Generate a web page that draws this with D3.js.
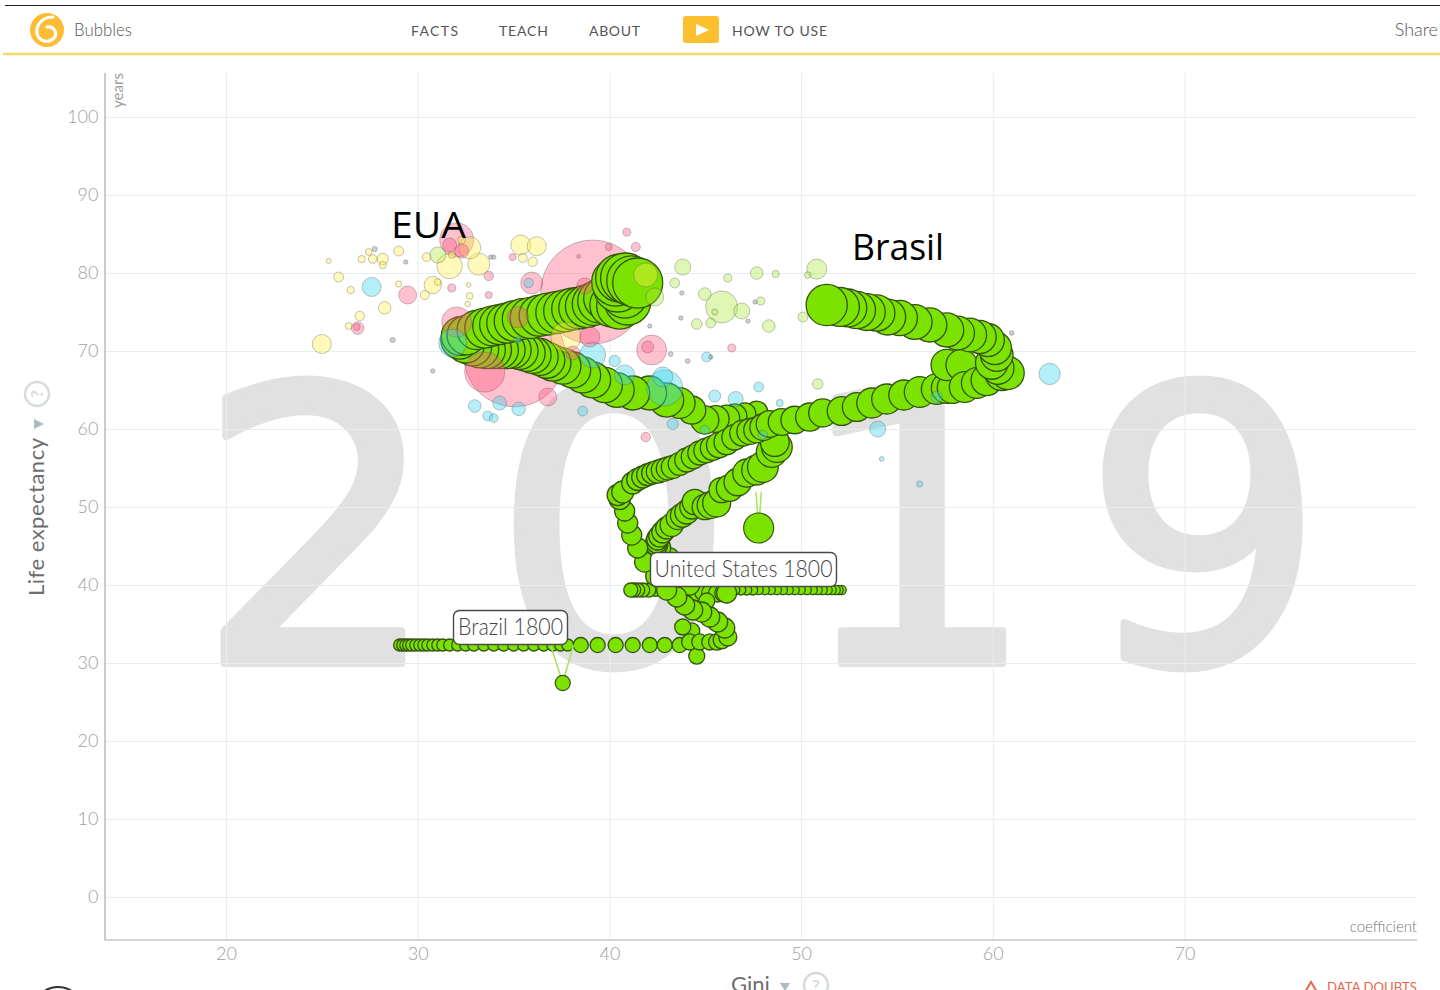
<!DOCTYPE html>
<html><head><meta charset="utf-8">
<script src="https://cdnjs.cloudflare.com/ajax/libs/d3/7.8.5/d3.min.js"></script>
<style>html,body{margin:0;padding:0;background:#fff;overflow:hidden}svg{display:block}text{font-family:Lato,sans-serif}</style>
</head><body><svg id="c" width="1440" height="990"></svg>
<script>
const yearDigits = ["2","0","1","9"];
const giniTicks = [20,30,40,50,60,70];
const lifeTicks = [0,10,20,30,40,50,60,70,80,90,100];
const navItems = ["FACTS","TEACH","ABOUT"];
// [gini, life expectancy, population in millions]
const brazilTrail = [[29.03,32.37,19],[29.19,32.37,19],[29.35,32.37,19],[29.5,32.37,19],[29.66,32.37,19],[29.87,32.37,19],[30.08,32.37,19],[30.29,32.37,19],[30.5,32.37,19],[30.76,32.37,19],[31.02,32.37,19],[31.28,32.37,19],[31.64,32.37,19],[32.06,32.37,19],[32.48,32.37,19],[32.9,32.37,19],[33.42,32.37,19],[33.94,32.37,19],[34.46,32.37,19],[34.98,32.37,19],[35.5,32.37,19],[36.03,32.37,19],[36.55,32.37,19],[37.02,32.37,19],[37.43,32.37,19],[37.8,32.37,19],[38.48,32.37,30],[39.36,32.37,30],[40.3,32.37,30],[41.19,32.37,30],[42.08,32.37,30],[42.86,32.37,30],[43.64,32.37,30],[44.53,30.96,34],[44.27,34.17,34],[43.8,34.68,34],[44.16,32.76,34],[44.69,32.76,34],[45.21,32.76,34],[45.58,32.76,36],[45.84,33.01,40],[46.15,33.4,43],[45.99,34.55,53],[45.62,35.32,53],[45.21,35.96,53],[44.79,36.6,53],[44.32,36.86,53],[43.9,37.5,53],[43.49,38.53,53],[42.96,39.42,53],[42.39,41.22,53],[41.81,43.01,53],[41.45,44.81,53],[41.14,46.47,53],[40.93,48.01,53],[40.77,49.55,53],[40.51,51.09,60],[40.41,51.6,60],[40.67,51.99,64],[41.19,53.14,64],[41.45,53.6,64],[41.71,53.91,64],[41.97,54.2,64],[42.23,54.42,64],[42.5,54.6,70],[42.76,54.81,70],[43.02,55,70],[43.28,55.19,70],[43.64,55.6,70],[44.01,56.09,76],[44.35,56.5,76],[44.69,56.99,76],[45.02,57.3,80],[45.36,57.63,80],[45.7,58,85],[46.09,58.4,85],[46.5,59,85],[46.93,59.55,89],[47.3,59.75,89],[47.66,59.94,89],[48.0,60.3,95],[48.33,60.71,95],[48.96,60.96,95],[49.64,61.22,100],[50.42,61.6,104],[51.1,62.12,104],[52.09,62.37,110],[52.88,62.88,110],[53.66,63.4,119],[54.44,63.91,119],[55.33,64.42,119],[56.16,64.81,125],[57.05,65.19,125],[57.57,65.32,125],[57.88,65.32,125],[57.57,68.27,130],[58.35,68.27,130],[58.51,65.45,125],[59.14,65.96,125],[59.66,66.35,130],[60.44,67.12,145],[60.75,67.24,145],[60.23,67.88,140],[59.92,68.53,140],[60.18,69.55,140],[60.08,70.45,145],[59.71,71.47,145],[59.29,71.86,145],[58.77,72.12,150],[58.14,72.37,150],[57.57,72.76,153],[56.69,73.4,153],[55.9,73.78,160],[55.12,74.29,165],[54.49,74.42,171],[53.92,74.94,175],[53.4,75.06,180],[52.88,75.32,185],[52.41,75.58,190],[52,75.71,200],[51.31,75.96,225]];
const usTrail = [[52.09,39.42,11],[51.93,39.42,11],[51.78,39.42,11],[51.57,39.42,11],[51.36,39.42,11],[51.1,39.42,11],[50.84,39.42,11],[50.58,39.42,11],[50.27,39.42,11],[49.95,39.42,11],[49.64,39.42,11],[49.33,39.42,11],[49.02,39.42,11],[48.71,39.42,11],[48.39,39.42,11],[48.08,39.42,11],[47.76,39.42,11],[47.45,39.42,13],[47.14,39.42,13],[46.83,39.42,13],[46.52,39.42,13],[46.2,39.42,13],[45.89,39.42,15],[45.52,39.42,15],[45.16,39.42,15],[44.79,39.42,15],[44.43,39.42,17],[44.05,39.42,17],[43.64,39.42,19],[43.22,39.42,19],[42.81,39.42,21],[42.39,39.42,21],[42.03,39.42,26],[41.71,39.42,26],[41.45,39.42,26],[41.24,39.42,26],[41.09,39.42,26],[44.16,39.17,43],[44.53,39.17,43],[44.89,39.17,43],[45.26,39.04,43],[45.62,39.04,43],[45.94,39.04,43],[46.09,39.04,53],[45.05,38.01,34],[44.16,40.06,53],[43.64,41.73,53],[43.11,43.53,53],[42.6,44.81,64],[42.44,45.19,64],[42.44,45.58,64],[42.49,45.96,64],[42.6,46.35,64],[42.76,46.86,64],[42.96,47.37,64],[43.22,47.76,70],[43.54,48.65,70],[43.78,49,76],[44.01,49.42,76],[44.27,50.06,76],[44.43,50.71,85],[44.95,50.06,85],[45.25,50.3,95],[45.57,50.58,104],[45.83,52.24,85],[46.25,52.5,95],[46.67,53.27,100],[47.14,54.42,104],[47.66,54.81,119],[47.98,55.19,125],[48.44,57.12,125],[48.71,57.76,125],[48.6,58.4,110],[47.98,60.58,89],[47.66,62.24,64],[47.04,62,64],[46.52,61.73,76],[46.09,61.47,89],[45.52,61.35,95],[44.95,61.22,104],[44.27,62.5,104],[43.64,63.4,125],[42.96,63.78,153],[42.07,64.68,153],[41.19,64.68,153],[40.36,65.06,160],[39.73,65.7,165],[39.1,66.35,171],[38.58,66.99,171],[38.06,67.63,171],[37.54,68.14,175],[37.02,68.53,175],[36.7,68.9,175],[36.34,69.3,180],[35.97,69.55,180],[35.66,69.81,180],[35.29,70.06,180],[34.93,70.19,180],[34.6,70.19,185],[34.25,70.19,185],[33.89,70.19,185],[33.57,70.19,185],[33.21,70.32,190],[32.84,70.58,190],[32.48,70.96,191],[32.17,71.47,191],[32.22,71.99,200],[32.53,72.1,205],[33.05,72.76,205],[33.47,73,212],[33.89,73.27,212],[34.25,73.46,212],[34.62,73.65,212],[35.03,73.91,220],[35.45,74.17,220],[35.87,74.3,225],[36.34,74.6,225],[36.76,74.8,233],[37.23,75,233],[37.64,75.2,233],[38.06,75.45,233],[38.43,75.58,233],[38.79,75.8,240],[39.16,76.1,245],[39.47,76.47,256],[39.78,76.86,256],[40.1,75.96,256],[40.51,75.83,280],[40.93,76.35,280],[40.77,77.24,280],[40.41,78.14,305],[40.3,78.9,305],[40.51,79.42,305],[40.82,79.42,331],[41.14,79.04,331],[41.45,78.78,331]];
const selectedMarkers = [[37.54,27.5,30],[47.76,47.37,119]];
const europeBubbles = [[25.33,81.6,3.3],[25.85,79.55,13],[26.48,77.88,7],[27.05,81.85,7],[27.42,82.76,6],[27.63,81.86,10],[28.15,81.86,17],[28.15,81.09,7],[28.98,82.88,13],[28.98,78.65,5],[30.44,82.1,10],[31.64,80.96,85],[33.16,81.2,64],[32.69,83.3,64],[32.27,84.3,8],[35.35,83.65,53],[36.18,83.5,48],[35.45,82,11],[35.97,81.5,12],[30.76,78.53,40],[31.02,78.9,6],[30.34,77.24,11],[28.25,75.6,21],[26.95,74.55,12],[26.37,73.27,6.5],[24.97,70.96,48],[32.69,77.12,6],[32.63,78.53,3],[32.58,76.09,4],[37.7,71.86,119],[31.75,82.37,6],[41.87,79.81,76]];
const asiaBubbles = [[39.1,77.63,1430],[35.03,69.42,1366],[32.01,84.3,153],[31.64,83.65,26],[32.27,82.88,26],[34.93,82.1,6.5],[33.68,79.68,12],[31.75,78.15,8.5],[33.68,77.24,6.5],[29.45,77.24,43],[26.84,73,21],[26.79,73.14,6.5],[35.92,78.78,64],[38.69,78.4,34],[39.94,83.4,6.5],[40.88,85.3,8.5],[41.35,83.4,11],[38.37,82.2,2],[32.01,73.78,119],[33.47,67.37,212],[36.76,64.17,43],[42.18,70.19,119],[41.97,70.58,19],[38.06,69.81,26],[38.95,71.86,53],[41.87,59.04,12],[46.36,70.45,8.5],[35.2,74.4,60]];
const africaBubbles = [[27.57,78.27,48],[35.76,78.78,12],[31.8,71.09,104],[39.1,69.55,89],[40.25,68.78,17],[40.77,67,53],[42.86,65.32,171],[42.76,66.73,53],[32.95,63.01,21],[34.25,63.4,26],[35.24,62.64,24],[33.63,61.73,13],[33.94,61.47,10],[38.58,62.37,13],[43.28,60.71,17],[35.19,71.47,6],[45.05,69.3,13],[45.47,64.3,19],[46.56,63.91,30],[47.76,65.45,13],[48.86,63.4,6.5],[47.98,59.3,11],[44.95,59.94,11],[53.97,60.06,34],[54.18,56.22,3],[62.94,67.12,60],[57.05,64.17,17],[56.16,53,5]];
const americaBubbles = [[43.8,80.83,34],[46.15,79.42,8.5],[47.66,80.06,21],[48.65,79.94,7],[50.79,80.56,53],[50.32,79.8,6],[44.95,77.37,21],[45.83,75.71,135],[46.88,75.19,34],[47.87,76.47,8.5],[45.47,75.06,5],[44.53,73.53,15],[45.26,73.65,13],[48.29,73.27,21],[50.07,74.42,13],[50.84,65.83,15],[43.38,78.78,13],[42.34,76.99,43],[31.02,82.37,34]];
const tinyBubbles = [[60.96,72.37,3],[43.75,77.5,2.5],[43.7,74.29,2.5],[42.08,73.27,2.5],[43.17,69.68,3],[44.06,68.78,3],[30.76,67.5,2.5],[28.67,71.47,3.5],[29.35,81.47,2.5],[45.26,69.3,2.5],[47.57,76.35,2.5],[47.2,73.9,2.5],[27.73,83.14,3.5],[33.94,82.1,2.5],[33.78,82.1,2.5]];

const svg = d3.select("#c");
const x = d3.scaleLinear().domain([20,70]).range([226.5,1185]);
const y = d3.scaleLinear().domain([0,100]).range([897.5,117.5]);
const r = d3.scaleSqrt().domain([0,1430]).range([0,52]);
const plot = {l:105,r:1417,t:73,b:940};
const GREY="#9c9e9f";

// giant year
svg.append("g").selectAll("text").data(yearDigits).join("text")
  .attr("x",(d,i)=>[318,614,916,1204][i]).attr("y",663).attr("text-anchor","middle")
  .attr("font-size",382).attr("fill","#e1e1e1").attr("stroke","#e1e1e1").attr("stroke-width",8).attr("stroke-linejoin","round")
  .style("font-family","'DejaVu Sans'").text(d=>d);

// grid
const grid = svg.append("g").attr("stroke","#e7eeef").attr("stroke-width",1);
grid.selectAll("line.v").data(giniTicks).join("line").attr("class","v").attr("x1",d=>x(d)).attr("x2",d=>x(d)).attr("y1",plot.t).attr("y2",plot.b);
grid.selectAll("line.h").data(lifeTicks).join("line").attr("class","h").attr("x1",plot.l).attr("x2",plot.r).attr("y1",d=>y(d)).attr("y2",d=>y(d));

// axes
const xAxis = svg.append("g").attr("transform",`translate(-0.5,${plot.b+1})`).call(d3.axisBottom(x).tickValues(giniTicks).tickSize(0).tickPadding(6));
const yAxis = svg.append("g").attr("transform",`translate(${plot.l-0.5},-1)`).call(d3.axisLeft(y).tickValues(lifeTicks).tickSize(0).tickPadding(6));
[xAxis,yAxis].forEach(a=>{a.select(".domain").remove();a.selectAll("text").attr("fill",GREY).style("font-size","18px").style("font-family","Lato").style("font-weight",300);});
svg.append("line").attr("x1",plot.l).attr("x2",plot.l).attr("y1",plot.t).attr("y2",plot.b).attr("stroke","#a9a9a9").attr("stroke-width",1.2);
svg.append("line").attr("x1",plot.l).attr("x2",plot.r).attr("y1",plot.b).attr("y2",plot.b).attr("stroke","#a9a9a9").attr("stroke-width",1.2);

// bubbles + trails ordered by size, as in the source chart
const palette={europe:"#fff04a",asia:"#ff5a80",africa:"#3ad6ee",america:"#aee83c",tiny:"#8a9aa0"};
const tag=(arr,k)=>arr.map(d=>({g:d[0],l:d[1],p:d[2],k}));
const faded=[...tag(europeBubbles,"europe"),...tag(asiaBubbles,"asia"),...tag(africaBubbles,"africa"),...tag(americaBubbles,"america"),...tag(tinyBubbles,"tiny")];
const layers=[...faded.map(d=>({type:"b",p:d.p,d})),{type:"t",p:331,d:usTrail},{type:"t",p:225,d:brazilTrail}].sort((a,b)=>b.p-a.p);
const marks=svg.append("g");
layers.forEach(L=>{
  if(L.type==="b"){
    marks.append("circle").attr("cx",x(L.d.g)).attr("cy",y(L.d.l)).attr("r",r(L.d.p))
      .attr("fill",palette[L.d.k]).attr("fill-opacity",L.d.k==="tiny"?.45:.38).attr("stroke","#555").attr("stroke-opacity",.34).attr("stroke-width",1);
  } else {
    marks.append("g").selectAll("circle").data(L.d).join("circle")
      .attr("cx",d=>x(d[0])).attr("cy",d=>y(d[1])).attr("r",d=>r(d[2]))
      .attr("fill","#7ce200").attr("stroke","#35530f").attr("stroke-width",1.3);
  }
});

// selection connectors and 1800 markers
const links=[[selectedMarkers[0],[36.9,32.37]],[selectedMarkers[0],[38.1,32.37]],[selectedMarkers[1],[47.62,52]],[selectedMarkers[1],[47.9,52]]];
svg.append("g").selectAll("line").data(links).join("line").attr("x1",d=>x(d[0][0])).attr("y1",d=>y(d[0][1])).attr("x2",d=>x(d[1][0])).attr("y2",d=>y(d[1][1])).attr("stroke","#a8e25a").attr("stroke-width",1.5);
svg.append("g").selectAll("circle").data(selectedMarkers).join("circle").attr("cx",d=>x(d[0])).attr("cy",d=>y(d[1])).attr("r",d=>r(d[2])).attr("fill","#7ce200").attr("stroke","#35530f").attr("stroke-width",1.2);

// labels
[{t:"United States 1800",x:650,y:552,w:186,h:34,tw:178},{t:"Brazil 1800",x:453,y:610,w:114,h:34,tw:105}].forEach(l=>{
  svg.append("rect").attr("x",l.x+.5).attr("y",l.y+.5).attr("width",l.w).attr("height",l.h).attr("rx",6).attr("fill","#fff").attr("stroke","#4a4a4a").attr("stroke-width",1.4);
  svg.append("text").attr("x",l.x+l.w/2+.5).attr("y",l.y+25).attr("text-anchor","middle").attr("font-size",23).attr("textLength",l.tw).attr("lengthAdjust","spacingAndGlyphs").style("font-weight",300).attr("fill","#444").text(l.t);
});

// annotations
svg.append("text").attr("x",391).attr("y",238).attr("font-size",36).style("font-family","'Open Sans'").attr("textLength",75).attr("lengthAdjust","spacingAndGlyphs").attr("fill","#000").text("EUA");
svg.append("text").attr("x",852).attr("y",260).attr("font-size",36).style("font-family","'Open Sans'").attr("textLength",92).attr("lengthAdjust","spacingAndGlyphs").attr("fill","#000").text("Brasil");

// axis titles
svg.append("text").attr("transform","translate(123,108) rotate(-90)").attr("font-size",15).attr("textLength",35).attr("lengthAdjust","spacingAndGlyphs").attr("fill",GREY).text("years");
svg.append("text").attr("x",1417).attr("y",932).attr("text-anchor","end").attr("font-size",15).style("font-weight",300).attr("fill","#777").text("coefficient");
svg.append("text").attr("transform","translate(44,596) rotate(-90)").attr("font-size",22).attr("textLength",158).attr("fill","#6d6d6d").text("Life expectancy");
svg.append("path").attr("d","M34,419 L34,429 L44,424 Z").attr("fill","#a9bcc0");
svg.append("circle").attr("cx",37).attr("cy",394).attr("r",12).attr("fill","none").attr("stroke","#d6dcdc").attr("stroke-width",2.5);
svg.append("text").attr("transform","translate(43,394) rotate(-90)").attr("text-anchor","middle").attr("font-size",17).style("font-weight",700).attr("fill","#d6dcdc").text("?");
svg.append("text").attr("x",731).attr("y",992).attr("font-size",22).attr("fill","#6d6d6d").text("Gini");
svg.append("path").attr("d","M780,983 L790,983 L785,991 Z").attr("fill","#a9bcc0");
svg.append("circle").attr("cx",816).attr("cy",985).attr("r",12).attr("fill","none").attr("stroke","#d6dcdc").attr("stroke-width",2.5);
svg.append("text").attr("x",816).attr("y",992).attr("text-anchor","middle").attr("font-size",17).style("font-weight",700).attr("fill","#d6dcdc").text("?");
svg.append("text").attr("x",1417).attr("y",992).attr("text-anchor","end").attr("font-size",14).attr("textLength",90).attr("lengthAdjust","spacingAndGlyphs").attr("fill","#e8674a").text("DATA DOUBTS");
svg.append("path").attr("d","M1311,982 L1305,992 L1317,992 Z").attr("fill","none").attr("stroke","#e8674a").attr("stroke-width",2);
svg.append("circle").attr("cx",58).attr("cy",1012).attr("r",25).attr("fill","none").attr("stroke","#333").attr("stroke-width",2);

// top bar
svg.append("line").attr("x1",5).attr("x2",1440).attr("y1",5.5).attr("y2",5.5).attr("stroke","#222").attr("stroke-width",1.2);
svg.append("line").attr("x1",3).attr("x2",1440).attr("y1",54).attr("y2",54).attr("stroke","#f6d768").attr("stroke-width",2.6);
svg.append("circle").attr("cx",47).attr("cy",30).attr("r",17).attr("fill","#fdbc32");
svg.append("path").attr("d","M53,17 C42,17 36,25 37,33 C38,41 48,44 54,38 C58,33 54,26 47,27").attr("fill","none").attr("stroke","#fff").attr("stroke-width",3.2).attr("stroke-linecap","round");
svg.append("text").attr("x",74).attr("y",36).attr("font-size",18).attr("textLength",58).attr("lengthAdjust","spacingAndGlyphs").attr("fill","#555").style("font-weight",300).text("Bubbles");
svg.append("g").selectAll("text").data(navItems).join("text").attr("x",(d,i)=>[411,499,589][i]).attr("y",35.5).attr("font-size",14).attr("textLength",(d,i)=>[47,49,51][i]).attr("fill","#555").text(d=>d);
svg.append("rect").attr("x",683).attr("y",16).attr("width",36).attr("height",27).attr("rx",3).attr("fill","#fcc02e");
svg.append("path").attr("d","M696,24 L696,36 L709,30 Z").attr("fill","#fff");
svg.append("text").attr("x",732).attr("y",35.5).attr("font-size",14).attr("textLength",95).attr("fill","#555").text("HOW TO USE");
svg.append("text").attr("x",1438).attr("y",36).attr("text-anchor","end").attr("font-size",18).style("font-weight",300).attr("fill","#555").text("Share");
</script></body></html>
